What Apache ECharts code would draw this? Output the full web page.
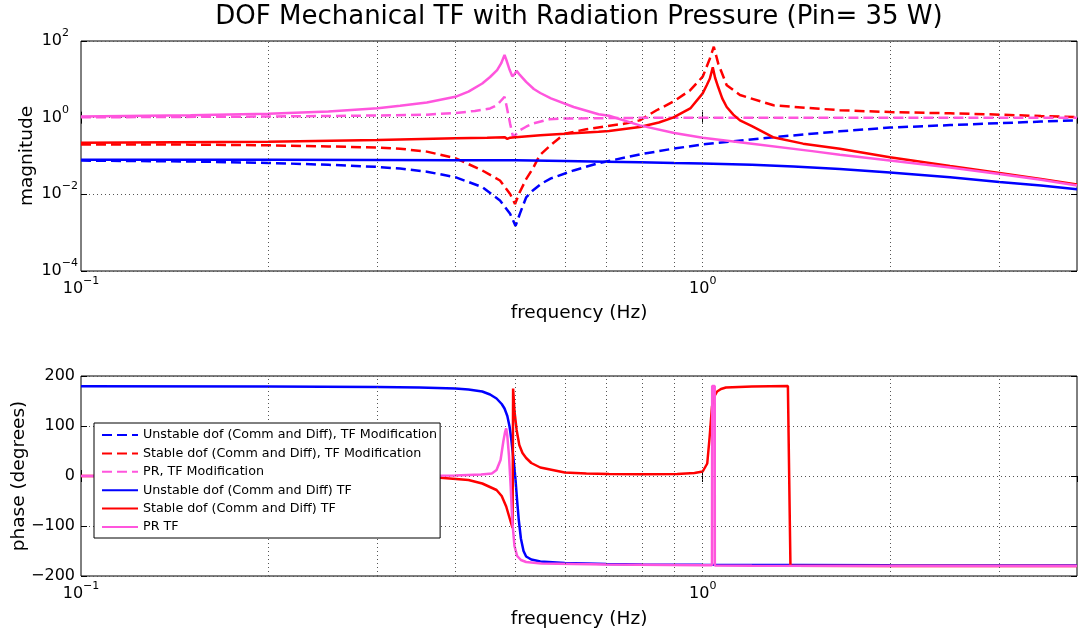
<!DOCTYPE html>
<html>
<head>
<meta charset="utf-8">
<script src="https://cdn.jsdelivr.net/npm/echarts@6/dist/echarts.min.js"></script>
<style>html,body{margin:0;padding:0;background:#fff}#c{width:1080px;height:633px}</style>
</head>
<body>
<div id="c"></div>
<script>
// ---------------- text ----------------
const titleText = 'DOF Mechanical TF with Radiation Pressure (Pin= 35 W)';
const xName = 'frequency (Hz)';
const magName = 'magnitude';
const phaseName = 'phase (degrees)';
const names = [
  'Unstable dof (Comm and Diff), TF Modification',
  'Stable dof (Comm and Diff), TF Modification',
  'PR, TF Modification',
  'Unstable dof (Comm and Diff) TF',
  'Stable dof (Comm and Diff) TF',
  'PR TF'
];
const gridFreqs = [0.2, 0.3, 0.4, 0.5, 0.6, 0.7, 0.8, 0.9, 1, 2, 3];

// ---------------- magnitude data (frequency Hz, magnitude) ----------------
const fUnstableMod = [0.1, 0.15, 0.2, 0.25, 0.3, 0.326, 0.36, 0.4, 0.442, 0.472, 0.49, 0.5, 0.508, 0.52, 0.533, 0.55, 0.57, 0.62, 0.68, 0.792, 0.896, 1.0, 1.3, 1.66, 2, 2.5, 3, 3.5, 4];
const mUnstableMod = [0.076, 0.072, 0.066, 0.059, 0.052, 0.047, 0.039, 0.028, 0.0155, 0.0069, 0.0031, 0.0015, 0.0031, 0.0083, 0.0126, 0.019, 0.026, 0.042, 0.065, 0.11, 0.155, 0.2, 0.31, 0.44, 0.55, 0.64, 0.72, 0.79, 0.85];

const fStableMod = [0.1, 0.15, 0.2, 0.25, 0.3, 0.326, 0.36, 0.4, 0.442, 0.472, 0.49, 0.499, 0.508, 0.52, 0.533, 0.547, 0.573, 0.6, 0.65, 0.7, 0.75, 0.792, 0.843, 0.896, 0.955, 1.0, 1.027, 1.042, 1.059, 1.093, 1.148, 1.3, 1.662, 2, 2.5, 3, 3.5, 4];
const mStableMod = [0.2, 0.198, 0.19, 0.178, 0.165, 0.155, 0.13, 0.088, 0.042, 0.023, 0.0102, 0.0056, 0.0115, 0.025, 0.047, 0.105, 0.21, 0.38, 0.5, 0.6, 0.7, 0.85, 1.56, 2.6, 5.2, 11.7, 35, 71, 26, 7, 3.9, 2.1, 1.56, 1.4, 1.3, 1.2, 1.1, 1.04];

const fPRMod = [0.1, 0.2, 0.3, 0.36, 0.4, 0.43, 0.455, 0.466, 0.472, 0.48, 0.484, 0.49, 0.4955, 0.508, 0.52, 0.533, 0.567, 0.6, 0.68, 0.8, 1, 2, 4];
const mPRMod = [1.02, 1.07, 1.14, 1.2, 1.32, 1.5, 1.74, 2.1, 2.6, 3.5, 1.9, 0.7, 0.31, 0.47, 0.58, 0.7, 0.91, 0.95, 0.97, 0.99, 1.0, 1.0, 1.0];

const fUnstable = [0.1, 0.2, 0.3, 0.4, 0.5, 0.6, 0.7, 0.792, 0.9, 1.0, 1.2, 1.4, 1.662, 2, 2.5, 3, 3.5, 4];
const mUnstable = [0.08, 0.0795, 0.079, 0.078, 0.077, 0.074, 0.071, 0.069, 0.066, 0.064, 0.059, 0.053, 0.046, 0.037, 0.028, 0.021, 0.017, 0.0135];

const fStable = [0.1, 0.2, 0.3, 0.326, 0.4, 0.45, 0.48, 0.485, 0.49, 0.5, 0.548, 0.6, 0.68, 0.707, 0.792, 0.85, 0.896, 0.955, 1.0, 1.015, 1.027, 1.038, 1.047, 1.059, 1.075, 1.093, 1.12, 1.148, 1.2, 1.297, 1.45, 1.662, 2, 2.5, 3, 3.5, 4];
const mStable = [0.22, 0.235, 0.26, 0.27, 0.29, 0.3, 0.31, 0.28, 0.3, 0.31, 0.35, 0.38, 0.43, 0.45, 0.57, 0.75, 1.0, 1.74, 4.3, 7, 10.5, 20.5, 11, 6.3, 3.2, 1.9, 1.2, 0.85, 0.6, 0.31, 0.21, 0.155, 0.093, 0.055, 0.036, 0.025, 0.018];

const fPR = [0.1, 0.15, 0.2, 0.25, 0.3, 0.326, 0.36, 0.4, 0.42, 0.442, 0.455, 0.467, 0.474, 0.48, 0.484, 0.489, 0.494, 0.498, 0.502, 0.508, 0.52, 0.535, 0.548, 0.57, 0.62, 0.68, 0.707, 0.792, 0.9, 1.0, 1.2, 1.5, 1.662, 2, 2.5, 3, 3.5, 4];
const mPR = [1.07, 1.15, 1.27, 1.45, 1.75, 2.05, 2.5, 3.5, 4.8, 7.8, 11.5, 17.4, 26, 43, 30, 18, 12, 13.5, 16.6, 13, 8.6, 5.6, 4.4, 3.2, 1.9, 1.23, 1.12, 0.63, 0.4, 0.3, 0.21, 0.134, 0.108, 0.076, 0.05, 0.034, 0.024, 0.017];

// ---------------- phase data (frequency Hz, degrees) ----------------
const pfUnstable = [0.1, 0.2, 0.3, 0.35, 0.4, 0.42, 0.442, 0.455, 0.466, 0.475, 0.48, 0.485, 0.489, 0.492, 0.495, 0.498, 0.5, 0.503, 0.506, 0.51, 0.515, 0.52, 0.53, 0.548, 0.6, 0.7, 0.8, 1, 2, 4];
const pUnstable = [179.5, 179, 178, 177, 175, 173, 169, 163, 155, 144, 135, 120, 99, 75, 46, 15, -8, -50, -88, -125, -150, -161, -167, -171, -174, -176, -177, -177.5, -178.5, -179];

const pfStable = [0.1, 0.2, 0.3, 0.374, 0.42, 0.442, 0.466, 0.475, 0.483, 0.488, 0.492, 0.4945, 0.4955, 0.498, 0.502, 0.507, 0.513, 0.52, 0.53, 0.548, 0.6, 0.65, 0.707, 0.8, 0.91, 0.97, 1.0, 1.017, 1.026, 1.035, 1.045, 1.055, 1.07, 1.09, 1.2, 1.371, 1.384, 2, 4];
const pStable = [0, -0.5, -1.5, -3, -8, -15, -28, -40, -61, -80, -95, -104, 175, 130, 92, 62, 46, 36, 26, 17, 7, 5, 4, 3.5, 4, 6, 9, 25, 78, 139, 160, 169, 174, 177, 179, 180, -179.5, -180, -180];

const pfPR = [0.1, 0.3, 0.4, 0.44, 0.458, 0.466, 0.473, 0.478, 0.481, 0.483, 0.485, 0.488, 0.491, 0.494, 0.498, 0.503, 0.51, 0.52, 0.55, 0.7, 1.0, 1.035, 1.0358, 1.0455, 1.046, 1.2, 4];
const pPR = [0, 0.5, 1, 3, 5, 12, 32, 70, 88, 95, 80, 40, -20, -90, -140, -160, -168, -172, -175, -177, -178.5, -178.5, 180, 180, -179, -179.5, -180];

// ---------------- helpers ----------------
const FONT = "'DejaVu Sans', sans-serif";
const BLUE = '#0000ff', RED = '#ff0000', PINK = '#ff55dd';
const pairs = (fs, vs, fn) => fs.map((f, i) => [f, fn ? fn(vs[i]) : vs[i]]);
const lg = v => Math.log10(v);
const supText = n => (n < 0 ? '\u2212' + (-n) : String(n));

const baseTok = { fontSize: 16, fontFamily: FONT, color: '#000', lineHeight: 26 };
const supTok = { fontSize: 11, fontFamily: FONT, color: '#000', lineHeight: 11 };
const richY = {
  b: baseTok,
  sp: Object.assign({}, supTok, { padding: [0, 9, 16, 0] }),
  sn: Object.assign({}, supTok, { padding: [0, 0, 16, 0] })
};
const richX = {
  b: baseTok,
  s: Object.assign({}, supTok, { padding: [0, 0, 16, 0] })
};
const tick = { show: true, inside: true, length: 6, lineStyle: { color: '#000', width: 1 } };
const nameStyle = { fontFamily: FONT, fontSize: 18.5, color: '#000' };
const gridLine = { show: true, lineStyle: { type: [1, 3], color: '#555', width: 1 } };

function xAxes(gi, gap) {
  return [
    {
      type: 'log', logBase: 10, min: 0.1, max: 4, gridIndex: gi,
      axisLine: { show: false }, splitLine: { show: false }, axisTick: tick,
      axisLabel: {
        margin: 5, showMaxLabel: false, rich: richX,
        formatter: v => '{b|10}{s|' + supText(Math.round(Math.log10(v))) + '}'
      },
      name: xName, nameLocation: 'middle', nameGap: gap, nameTextStyle: nameStyle
    },
    {
      type: 'log', logBase: 10, min: 0.1, max: 4, gridIndex: gi, position: 'top',
      axisLine: { show: false }, splitLine: { show: false }, axisTick: tick,
      axisLabel: { show: false }
    }
  ];
}

function gridSeries(xi, yi) {
  return {
    type: 'line', xAxisIndex: xi, yAxisIndex: yi, data: [], silent: true, z: 1,
    markLine: {
      silent: true, symbol: ['none', 'none'], label: { show: false }, animation: false,
      lineStyle: { type: [1, 3], color: '#555', width: 1 },
      emphasis: { disabled: true },
      data: gridFreqs.map(f => ({ xAxis: f }))
    }
  };
}

function lineSeries(name, data, color, dashed, xi, yi) {
  return {
    name, type: 'line', data, xAxisIndex: xi, yAxisIndex: yi,
    symbol: 'none', showSymbol: false, animation: false, z: 3,
    lineStyle: { color, width: 2.5, type: dashed ? [10, 5] : 'solid' },
    itemStyle: { color },
    emphasis: { disabled: true }
  };
}

const option = {
  backgroundColor: '#fff',
  animation: false,
  title: {
    text: titleText, left: 579, top: 4, padding: 0, textAlign: 'center',
    textStyle: { fontFamily: FONT, fontSize: 26, fontWeight: 'normal', color: '#000' }
  },
  grid: [
    { left: 81, right: 3, top: 41, height: 230, show: true, borderColor: '#000', borderWidth: 1, backgroundColor: 'transparent' },
    { left: 81, right: 3, top: 376, height: 200, show: true, borderColor: '#000', borderWidth: 1, backgroundColor: 'transparent' }
  ],
  xAxis: [...xAxes(0, 32), ...xAxes(1, 34)],
  yAxis: [
    {
      type: 'value', min: -4, max: 2, interval: 2, gridIndex: 0,
      axisLine: { show: false }, axisTick: tick, splitLine: gridLine,
      axisLabel: {
        margin: 3, rich: richY,
        formatter: v => (v >= 0 ? '{b|10}{sp|' + v + '}' : '{b|10}{sn|' + supText(v) + '}')
      },
      name: magName, nameLocation: 'middle', nameGap: 44, nameMoveOverlap: false, nameTextStyle: nameStyle
    },
    {
      type: 'value', min: -4, max: 2, interval: 2, gridIndex: 0, position: 'right',
      axisLine: { show: false }, axisTick: tick, splitLine: { show: false }, axisLabel: { show: false }
    },
    {
      type: 'value', min: -200, max: 200, interval: 100, gridIndex: 1,
      axisLine: { show: false }, axisTick: tick, splitLine: gridLine,
      axisLabel: { margin: 6, fontFamily: FONT, fontSize: 16, color: '#000', formatter: v => supText(v) },
      name: phaseName, nameLocation: 'middle', nameGap: 52, nameMoveOverlap: false, nameTextStyle: nameStyle
    },
    {
      type: 'value', min: -200, max: 200, interval: 100, gridIndex: 1, position: 'right',
      axisLine: { show: false }, axisTick: tick, splitLine: { show: false }, axisLabel: { show: false }
    }
  ],
  legend: {
    data: names, orient: 'vertical', left: 94, top: 423,
    itemWidth: 36, itemHeight: 14, itemGap: 4.4, padding: [5, 3, 4, 7],
    backgroundColor: '#fff', borderColor: '#000', borderWidth: 1, borderRadius: 0,
    selectedMode: false, z: 10,
    itemStyle: { opacity: 0 },
    textStyle: { fontFamily: FONT, fontSize: 12.7, color: '#000', lineHeight: 14 }
  },
  series: [
    gridSeries(0, 0),
    lineSeries(names[0], pairs(fUnstableMod, mUnstableMod, lg), BLUE, true, 0, 0),
    lineSeries(names[1], pairs(fStableMod, mStableMod, lg), RED, true, 0, 0),
    lineSeries(names[2], pairs(fPRMod, mPRMod, lg), PINK, true, 0, 0),
    lineSeries(names[3], pairs(fUnstable, mUnstable, lg), BLUE, false, 0, 0),
    lineSeries(names[4], pairs(fStable, mStable, lg), RED, false, 0, 0),
    lineSeries(names[5], pairs(fPR, mPR, lg), PINK, false, 0, 0),
    gridSeries(2, 2),
    lineSeries(names[3], pairs(pfUnstable, pUnstable), BLUE, false, 2, 2),
    lineSeries(names[4], pairs(pfStable, pStable), RED, false, 2, 2),
    lineSeries(names[5], pairs(pfPR, pPR), PINK, false, 2, 2)
  ]
};

const chart = echarts.init(document.getElementById('c'), null, { renderer: 'canvas' });
chart.setOption(option);
</script>
</body>
</html>
